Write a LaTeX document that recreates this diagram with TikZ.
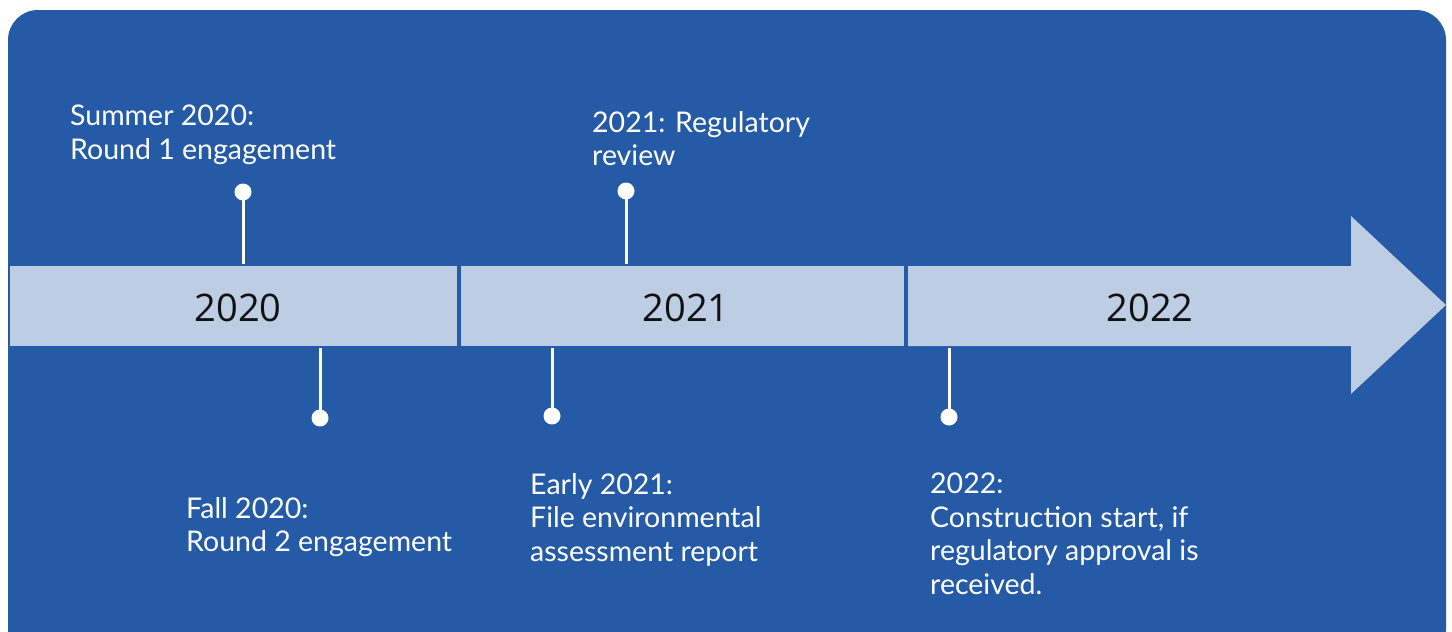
\documentclass[tikz,border=0pt]{standalone}
\usepackage{fontspec}
\setmainfont{Lato}
\newfontfamily\yearfont{Open Sans}
\definecolor{bgblue}{HTML}{245AA6}
\definecolor{barblue}{HTML}{BDCDE4}
\definecolor{yeartxt}{HTML}{111111}
\begin{document}
\begin{tikzpicture}[x=1pt,y=-1pt,
  barseg/.style={fill=barblue,draw=none},
  yearlbl/.style={font=\yearfont\fontsize{38}{42}\selectfont,text=yeartxt,inner sep=0pt},
  evtxt/.style={font=\fontsize{28.5}{33.5}\selectfont,text=white,align=left,anchor=north west,inner sep=0pt},
  pindot/.style={circle,fill=white,draw=none,minimum size=17pt,inner sep=0pt},
  pinline/.style={draw=white,line width=3pt}]
\useasboundingbox (0,0) rectangle (1452,632);
\begin{scope}
\clip (0,0) rectangle (1452,632);
\fill[bgblue,rounded corners=30pt] (8,10) rectangle (1446,660);
\end{scope}
% bar segments
\path[barseg] (10,266) rectangle (457,346);
\path[barseg] (461,266) rectangle (904,346);
\path[barseg] (908,266) -- (1351,266) -- (1351,216) -- (1446,305) -- (1351,394) -- (1351,346) -- (908,346) -- cycle;
\node[yearlbl] (y20) at (238,308) {2020};
\node[yearlbl] (y21) at (686,308) {2021};
\node[yearlbl] (y22) at (1150,308) {2022};
% pins
\coordinate (b1) at (243,264);
\coordinate (b2) at (320,348);
\coordinate (b3) at (626,264);
\coordinate (b4) at (552,348);
\coordinate (b5) at (949,348);
\node[pindot] (p1) at (243,192) {};
\node[pindot] (p2) at (320,418) {};
\node[pindot] (p3) at (626,191) {};
\node[pindot] (p4) at (552,416) {};
\node[pindot] (p5) at (949,417) {};
\draw[pinline] (p1.center) -- (b1);
\draw[pinline] (p2.center) -- (b2);
\draw[pinline] (p3.center) -- (b3);
\draw[pinline] (p4.center) -- (b4);
\draw[pinline] (p5.center) -- (b5);
% texts
\node[evtxt] (t1) at (70,105) {Summer 2020:\\Round 1 engagement};
\node[evtxt] (t2) at (186,497) {Fall 2020:\\Round 2 engagement};
\node[evtxt] (t3) at (592,111) {2021: Regulatory\\review};
\node[evtxt] (t4) at (530,473) {Early 2021:\\File environmental\\assessment report};
\node[evtxt] (t5) at (930,473) {2022:\\Construction start, if\\regulatory approval is\\received.};
\end{tikzpicture}
\end{document}
